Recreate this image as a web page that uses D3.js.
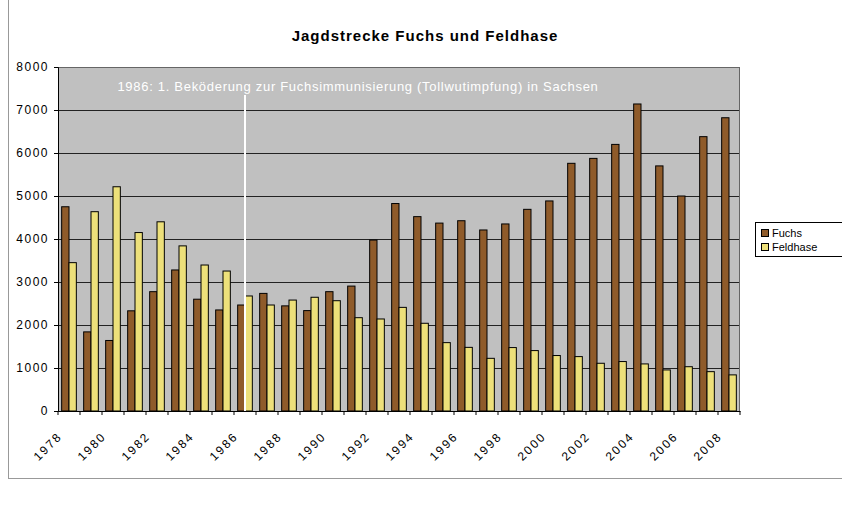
<!DOCTYPE html>
<html><head><meta charset="utf-8">
<script src="https://cdn.jsdelivr.net/npm/d3@7"></script>
<style>body{margin:0;background:#fff;} svg{display:block;font-family:Arial,"Liberation Sans",sans-serif;}</style>
</head><body>
<svg id="c" width="842" height="517"></svg>
<script>
const years = [1978,1979,1980,1981,1982,1983,1984,1985,1986,1987,1988,1989,1990,1991,1992,1993,1994,1995,1996,1997,1998,1999,2000,2001,2002,2003,2004,2005,2006,2007,2008];
const fuchs = [4750,1840,1640,2330,2775,3280,2600,2350,2465,2735,2445,2335,2775,2905,3975,4825,4520,4370,4425,4210,4350,4690,4885,5760,5875,6200,7140,5700,5000,6380,6820];
const feldhase = [3450,4635,5215,4150,4400,3840,3395,3255,2675,2465,2580,2645,2565,2170,2140,2410,2040,1590,1480,1225,1475,1405,1290,1265,1110,1150,1095,955,1030,915,840];
const yTicks = [0,1000,2000,3000,4000,5000,6000,7000,8000];
const seriesNames = ["Fuchs","Feldhase"];
const seriesColors = ["#8F5B2A","#EDE07A"];
const title = "Jagdstrecke Fuchs und Feldhase";
const noteYear = 1986;
const noteText = "1986: 1. Beköderung zur Fuchsimmunisierung (Tollwutimpfung) in Sachsen";

const svg = d3.select("#c");
svg.append("rect").attr("x",8.5).attr("y",-2).attr("width",850).attr("height",480.5)
  .attr("fill","#fff").attr("stroke","#999").attr("stroke-width",1);

const m = {l:58, r:740, t:67, b:411};
const x = d3.scaleBand().domain(years).range([m.l,m.r]).paddingInner(0).paddingOuter(0);
const y = d3.scaleLinear().domain([0,8000]).range([m.b,m.t]);
const xs = d3.scaleBand().domain(seriesNames).range([0,x.bandwidth()]).paddingInner(0).paddingOuter(0.5);

svg.append("rect").attr("x",m.l).attr("y",m.t).attr("width",m.r-m.l).attr("height",m.b-m.t).attr("fill","#C0C0C0");

svg.append("g").selectAll("line").data(yTicks).join("line")
  .attr("x1",m.l).attr("x2",m.r).attr("y1",d=>Math.round(y(d))+0.5).attr("y2",d=>Math.round(y(d))+0.5)
  .attr("stroke","#222").attr("stroke-width",1);

const data = years.map((yr,i)=>({yr, vals:[fuchs[i],feldhase[i]]}));
const g = svg.append("g").selectAll("g").data(data).join("g").attr("transform",d=>`translate(${x(d.yr)},0)`);
g.selectAll("rect").data(d=>d.vals.map((v,k)=>({v,k}))).join("rect")
  .attr("x",d=>xs(seriesNames[d.k])).attr("width",xs.bandwidth())
  .attr("y",d=>y(d.v)).attr("height",d=>y(0)-y(d.v))
  .attr("fill",d=>seriesColors[d.k]).attr("stroke","#000").attr("stroke-width",1);

svg.append("rect").attr("x",m.l+0.5).attr("y",m.t+0.5).attr("width",m.r-m.l-1).attr("height",m.b-m.t)
  .attr("fill","none").attr("stroke","#666");

const nx = x(noteYear)+x.bandwidth()/2;
svg.append("line").attr("x1",nx).attr("x2",nx).attr("y1",95).attr("y2",m.b).attr("stroke","#fff").attr("stroke-width",2);
svg.append("text").attr("x",358).attr("y",91).attr("text-anchor","middle").attr("fill","#fff")
  .attr("font-size",13).attr("letter-spacing",0.7).text(noteText);

const ya = svg.append("g").attr("transform",`translate(${m.l},0)`)
  .call(d3.axisLeft(y).tickValues(yTicks).tickFormat(d3.format("d")).tickSize(4).tickPadding(5));
ya.select(".domain").attr("stroke","#000");
ya.selectAll("text").attr("font-size",12).attr("letter-spacing",1.5).attr("fill","#000")
  .attr("font-family","Arial,'Liberation Sans',sans-serif");

const xa = svg.append("g").attr("transform",`translate(0,${m.b})`)
  .call(d3.axisBottom(x).tickValues(years.filter((d,i)=>i%2===0)).tickSize(0).tickPadding(0));
xa.select(".domain").attr("stroke","#000");
xa.selectAll("text").attr("font-size",12).attr("letter-spacing",2).attr("fill","#000")
  .attr("font-family","Arial,'Liberation Sans',sans-serif")
  .attr("text-anchor","end").attr("dy",0).attr("transform","translate(-6,26) rotate(-45)");
svg.append("g").selectAll("line").data(years.concat([null])).join("line")
  .attr("x1",(d,i)=>i<years.length?x(d):m.r).attr("x2",(d,i)=>i<years.length?x(d):m.r)
  .attr("y1",m.b).attr("y2",m.b+4).attr("stroke","#000");

svg.append("text").attr("x",425).attr("y",41).attr("text-anchor","middle").attr("font-weight","bold")
  .attr("font-size",15).attr("letter-spacing",1).text(title);

const lg = svg.append("g").attr("transform","translate(755,222)");
lg.append("rect").attr("x",0.5).attr("y",0.5).attr("width",100).attr("height",34).attr("fill","#fff").attr("stroke","#000");
seriesNames.forEach((s,i)=>{
  lg.append("rect").attr("x",6.5).attr("y",7.5+i*14).attr("width",7).attr("height",7).attr("fill",seriesColors[i]).attr("stroke","#000");
  lg.append("text").attr("x",17).attr("y",15+i*14).attr("font-size",11).text(s);
});
</script>
</body></html>
